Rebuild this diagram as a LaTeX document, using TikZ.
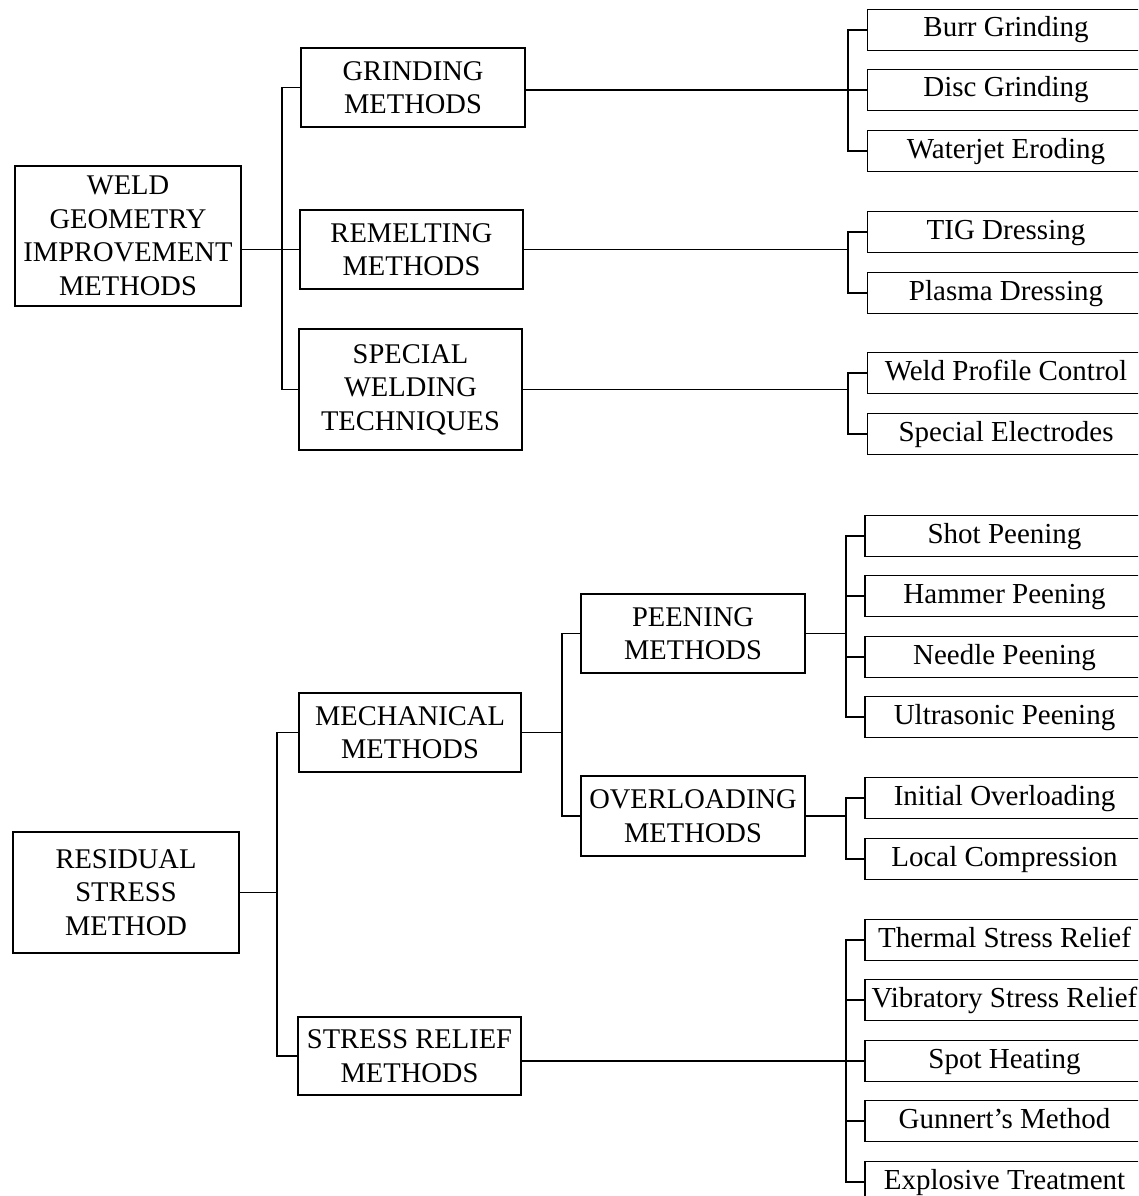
\documentclass[tikz,border=0pt]{standalone}
\usepackage{fontspec}
\setmainfont{Liberation Serif}
\begin{document}
\begin{tikzpicture}[x=1pt,y=-1pt,
  box/.style={draw,line width=1.7pt,inner sep=0pt,align=center,
    font=\fontsize{28.5}{33.5}\selectfont},
  leaf/.style={draw,line width=1.7pt,inner sep=0pt,minimum width=277,minimum height=41,
    text height=20pt,text depth=6pt,font=\fontsize{29}{33.5}\selectfont},
  link/.style={line width=1.7pt}]
\clip (0,0) rectangle (1138,1196);
\fill[white] (0,0) rectangle (1138,1196);
% ---------- top tree ----------
\node[box,minimum width=226,minimum height=140] (weld) at (128,236) {WELD\\GEOMETRY\\IMPROVEMENT\\METHODS};
\node[box,minimum width=224,minimum height=79] (grind) at (413,87.5) {GRINDING\\METHODS};
\node[box,minimum width=223,minimum height=79] (remelt) at (411.5,249.5) {REMELTING\\METHODS};
\node[box,minimum width=223,minimum height=121] (special) at (410.5,389.5) {SPECIAL\\WELDING\\TECHNIQUES};
\node[leaf] (burr) at (1006,30) {Burr Grinding};
\node[leaf] (disc) at (1006,90) {Disc Grinding};
\node[leaf] (water) at (1006,151) {Waterjet Eroding};
\node[leaf] (tig) at (1006,232) {TIG Dressing};
\node[leaf] (plasma) at (1006,293) {Plasma Dressing};
\node[leaf] (profile) at (1006,373) {Weld Profile Control};
\node[leaf] (electr) at (1006,434) {Special Electrodes};
\coordinate (ja) at (282,249.5);
\coordinate (bx) at (848,0);
\draw[link] (remelt.west -| weld.east) -- (remelt.west);
\draw[link] (grind.west) -| (ja) |- (special.west);
\draw[link] (disc.west -| grind.east) -- (disc.west);
\draw[link] (burr.west) -| (burr.west -| bx) |- (water.west);
\draw[link] (remelt.east) -- (remelt.east -| bx);
\draw[link] (tig.west) -| (tig.west -| bx) |- (plasma.west);
\draw[link] (special.east) -- (special.east -| bx);
\draw[link] (profile.west) -| (profile.west -| bx) |- (electr.west);
% ---------- bottom tree ----------
\node[box,minimum width=226,minimum height=121] (resid) at (126,892.5) {RESIDUAL\\STRESS\\METHOD};
\node[box,minimum width=222,minimum height=79] (mech) at (410,732.5) {MECHANICAL\\METHODS};
\node[box,minimum width=223,minimum height=78] (srelief) at (409.5,1056) {STRESS RELIEF\\METHODS};
\node[box,minimum width=224,minimum height=79] (peen) at (693,633.5) {PEENING\\METHODS};
\node[box,minimum width=224,minimum height=80] (overl) at (693,816) {OVERLOADING\\METHODS};
\node[leaf,minimum width=279] (shot) at (1004.5,536) {Shot Peening};
\node[leaf,minimum width=279] (hammer) at (1004.5,596) {Hammer Peening};
\node[leaf,minimum width=279] (needle) at (1004.5,657) {Needle Peening};
\node[leaf,minimum width=279] (ultra) at (1004.5,717) {Ultrasonic Peening};
\node[leaf,minimum width=279] (initial) at (1004.5,798) {Initial Overloading};
\node[leaf,minimum width=279] (local) at (1004.5,859) {Local Compression};
\node[leaf,minimum width=279] (thermal) at (1004.5,940) {Thermal Stress Relief};
\node[leaf,minimum width=279] (vibr) at (1004.5,1000) {Vibratory Stress Relief};
\node[leaf,minimum width=279] (spot) at (1004.5,1061) {Spot Heating};
\node[leaf,minimum width=279] (gunn) at (1004.5,1121) {Gunnert’s Method};
\node[leaf,minimum width=279] (expl) at (1004.5,1182) {Explosive Treatment};
\coordinate (jb) at (277,892.5);
\coordinate (jc) at (562,732.5);
\coordinate (by) at (846,0);
\draw[link] (resid.east) -- (jb);
\draw[link] (mech.west) -| (jb) |- (srelief.west);
\draw[link] (mech.east) -- (jc);
\draw[link] (peen.west) -| (jc) |- (overl.west);
\draw[link] (peen.east) -- (peen.east -| by);
\draw[link] (shot.west) -| (shot.west -| by) |- (ultra.west);
\draw[link] (hammer.west) -- (hammer.west -| by);
\draw[link] (needle.west) -- (needle.west -| by);
\draw[link] (overl.east) -- (overl.east -| by);
\draw[link] (initial.west) -| (initial.west -| by) |- (local.west);
\draw[link] (spot.west -| srelief.east) -- (spot.west);
\draw[link] (thermal.west) -| (thermal.west -| by) |- (expl.west);
\draw[link] (vibr.west) -- (vibr.west -| by);
\draw[link] (gunn.west) -- (gunn.west -| by);
\end{tikzpicture}
\end{document}
